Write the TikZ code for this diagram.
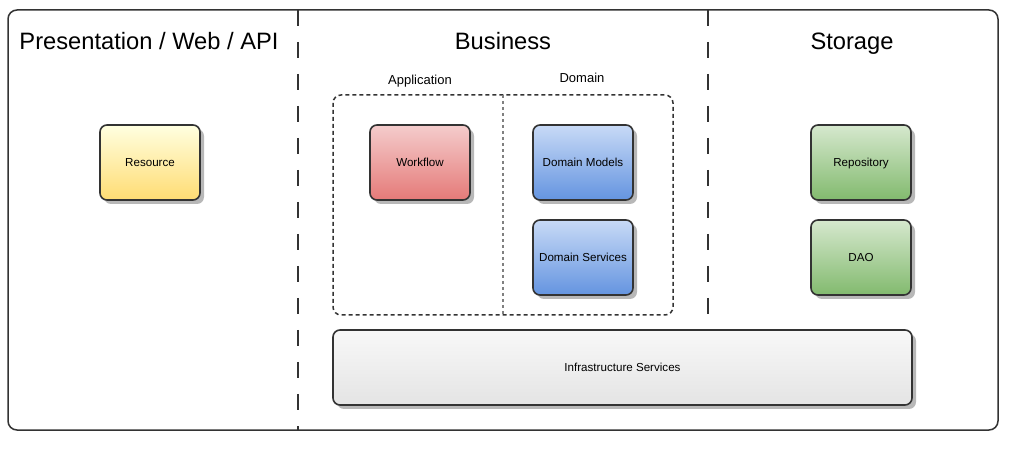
\documentclass[tikz,border=0pt]{standalone}
\usepackage{fontspec}
\setmainfont{Liberation Sans}
\usetikzlibrary{shadows}
\definecolor{edge}{HTML}{333333}
\begin{document}
\begin{tikzpicture}[x=1pt,y=-1pt,
  box/.style={draw=edge,line width=1.6pt,rounded corners=7pt,minimum width=100pt,minimum height=75pt,
    font=\fontsize{11.6}{13}\selectfont,inner sep=0pt,text height=8.3pt,text depth=0pt,
    drop shadow={shadow xshift=4pt,shadow yshift=-4pt,fill=black,opacity=0.28}},
  yellowbox/.style={box,top color=yellow!12!white,bottom color=yellow!50!orange!55!white},
  redbox/.style={box,top color={rgb,255:red,244;green,204;blue,204},bottom color={rgb,255:red,229;green,122;blue,120}},
  bluebox/.style={box,top color={rgb,255:red,200;green,218;blue,246},bottom color={rgb,255:red,100;green,148;blue,224}},
  greenbox/.style={box,top color={rgb,255:red,214;green,232;blue,206},bottom color={rgb,255:red,130;green,186;blue,110}},
  graybox/.style={box,top color={rgb,255:red,248;green,248;blue,248},bottom color={rgb,255:red,228;green,228;blue,228}},
  title/.style={font=\fontsize{23.7}{26}\selectfont,inner sep=0pt,anchor=base},
  sublabel/.style={font=\fontsize{13}{15}\selectfont,inner sep=0pt,anchor=base},
  sep/.style={draw=edge,line width=2pt,dash pattern=on 16pt off 16pt},
]
\useasboundingbox (0,0) rectangle (1018,454);
% outer frame
\draw[edge,line width=1.5pt,rounded corners=9pt] (8,10) rectangle (998,430);
% separators
\coordinate (s1t) at (298,10);
\coordinate (s1b) at (298,430);
\coordinate (s2t) at (708,10);
\coordinate (s2b) at (708,314);
\draw[sep] (s1t) -- (s1b);
\draw[sep] (s2t) -- (s2b);
% titles
\node[title] (t1) at (149,50) {Presentation / Web / API};
\node[title] (t2) at (503,50) {Business};
\node[title] (t3) at (852,50) {Storage};
% business dashed container
\draw[edge,line width=1.5pt,dash pattern=on 4pt off 3pt,rounded corners=8pt] (333,95) rectangle (673,315);
\coordinate (dt) at (503,95);
\coordinate (db) at (503,315);
\draw[gray,line width=1.2pt,dash pattern=on 3pt off 3pt] (dt) -- (db);
\node[sublabel] (app) at (420,85) {Application};
\node[sublabel] (dom) at (582,83) {Domain};
% boxes
\node[yellowbox] (res) at (150,162.5) {Resource};
\node[redbox] (wf) at (420,162.5) {Workflow};
\node[bluebox] (dm) at (583,162.5) {Domain Models};
\node[bluebox] (ds) at (583,257.5) {Domain Services};
\node[greenbox] (rep) at (861,162.5) {Repository};
\node[greenbox] (dao) at (861,257.5) {DAO};
\node[graybox,minimum width=579pt] (inf) at (622.5,367.5) {Infrastructure Services};
\end{tikzpicture}
\end{document}
